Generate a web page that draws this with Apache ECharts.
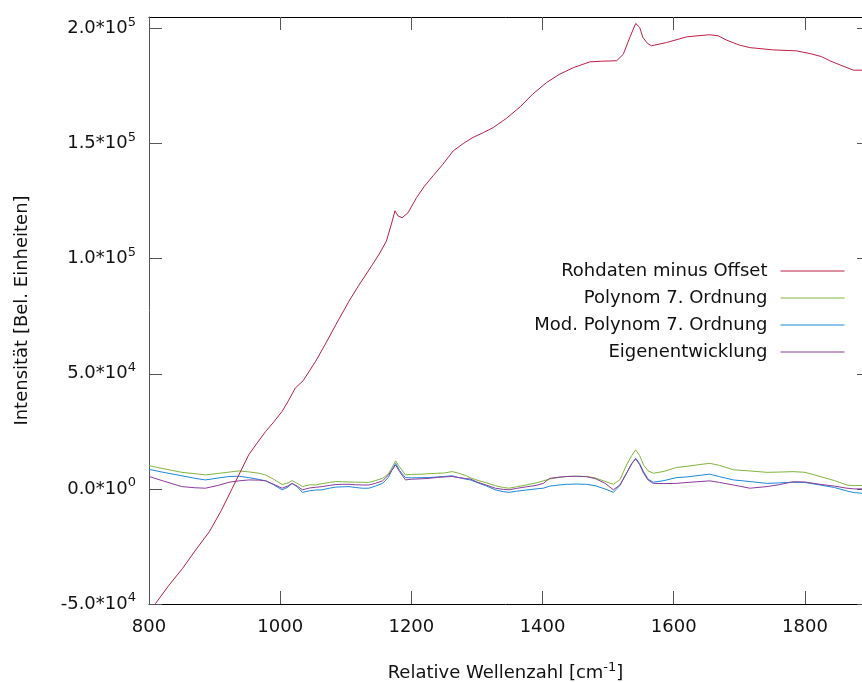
<!DOCTYPE html>
<html>
<head>
<meta charset="utf-8">
<script src="https://cdn.jsdelivr.net/npm/echarts@6/dist/echarts.min.js"></script>
<style>
  html, body { margin: 0; padding: 0; background: #fff; }
  #main { width: 862px; height: 682px; }
</style>
</head>
<body>
<div id="main"></div>
<script>
// Rohdaten: eigenes Raster
var rohX = [805, 810, 830, 851, 870, 892, 910, 927, 940, 952, 965, 978, 990, 1003, 1013, 1023, 1035, 1054, 1070, 1085,
    1105, 1120, 1141, 1152, 1162, 1170, 1175, 1180, 1186, 1195, 1208, 1220, 1233, 1248, 1264, 1280, 1294, 1310, 1325, 1345,
    1366, 1385, 1406, 1425, 1447, 1472, 1490, 1513, 1523, 1533, 1542, 1548, 1553, 1560, 1566, 1589, 1620, 1655, 1668, 1681,
    1700, 1716, 1752, 1787, 1808, 1825, 1838, 1855, 1874, 1887, 1895];
var rohY = [-51500, -49800, -42000, -34600, -27000, -18600, -9500, 300, 7800, 14800, 20000, 25000, 29000, 33700, 38500, 43800, 47000, 55400, 63500, 71400,
    81600, 88500, 97600, 102500, 107700, 115500, 120800, 118500, 117800, 120000, 126600, 131500, 136000, 141000, 146900, 150200, 152700, 154800, 157000, 161000,
    166000, 171500, 176500, 180000, 183000, 185500, 185800, 186000, 188800, 196100, 202200, 200500, 196100, 193500, 192500, 193900, 196400, 197300, 196800, 194900,
    192800, 191700, 190700, 190300, 189100, 187800, 186000, 184000, 181900, 181900, 181500];

// Untergrund-Kurven: gemeinsames Raster
var wellenzahl = [800, 820, 850, 870, 886, 905, 922, 937, 952, 968, 978, 990, 1003, 1012, 1018, 1026, 1034, 1045, 1054, 1064,
    1075, 1085, 1095, 1105, 1115, 1125, 1135, 1145, 1156, 1165, 1170, 1176, 1182, 1191, 1200, 1216, 1227, 1240, 1250, 1262,
    1270, 1283, 1290, 1300, 1315, 1328, 1340, 1349, 1360, 1375, 1390, 1401, 1411, 1425, 1437, 1452, 1467, 1480, 1495, 1508,
    1518, 1528, 1536, 1542, 1548, 1554, 1561, 1569, 1585, 1604, 1620, 1640, 1655, 1670, 1691, 1716, 1742, 1760, 1782, 1800,
    1823, 1845, 1864, 1875, 1887, 1895];
var polynom7 = [10100, 8900, 7200, 6600, 6100, 6700, 7300, 7800, 7400, 6800, 6000, 4200, 1900, 2600, 3600, 2400, 1000, 1800, 1700, 2300,
    2800, 3200, 3100, 3000, 2900, 2900, 2800, 3600, 4600, 6500, 9000, 12200, 9500, 6100, 6300, 6400, 6600, 6800, 6900, 7500,
    7000, 5800, 4800, 3800, 2600, 1400, 600, 300, 900, 1700, 2600, 3500, 4300, 5000, 5400, 5500, 5400, 4800, 3300, 2000,
    4000, 10400, 14500, 17000, 14500, 10400, 7800, 6800, 7600, 9300, 9800, 10600, 11100, 10200, 8300, 7800, 7200, 7300, 7500, 7200,
    5400, 3600, 1700, 1400, 1500, 1300];
var modPolynom7 = [8500, 7300, 5700, 4600, 3900, 4700, 5400, 5500, 4900, 4100, 3500, 1800, -400, 800, 2400, 900, -1500, -800, -500, -400,
    300, 800, 900, 1000, 600, 300, 300, 1200, 2400, 5000, 8000, 11100, 8000, 4900, 4800, 4900, 4900, 5200, 5400, 5700,
    5100, 4200, 3900, 2800, 1200, -400, -1200, -1500, -1000, -500, 0, 300, 1200, 1700, 2000, 2100, 2000, 1400, 0, -1500,
    1500, 6800, 11000, 13300, 11000, 7500, 4200, 2900, 3600, 4900, 5200, 5900, 6400, 5300, 3900, 3200, 2400, 2600, 2900, 2800,
    1700, 600, -900, -1600, -1900, -2000];
var eigenentwicklung = [5400, 3600, 1000, 500, 300, 1500, 2900, 3500, 3900, 3800, 3500, 2000, 300, 1300, 2400, 1200, -400, 400, 700, 1000,
    1500, 1900, 2000, 2000, 1800, 1700, 1700, 2400, 3500, 6000, 8000, 10400, 7500, 3900, 4200, 4400, 4600, 5000, 5200, 5400,
    5000, 4500, 4300, 3000, 1600, 300, -200, -400, 200, 900, 1500, 2400, 4600, 5100, 5400, 5500, 5300, 4500, 2500, -400,
    1800, 6800, 11000, 13000, 10500, 6800, 3800, 2400, 2300, 2400, 2800, 3200, 3500, 2800, 1700, 300, 1000, 1800, 3100, 3000,
    2000, 1200, 300, 0, 0, 0];

var serienNamen = ['Rohdaten minus Offset', 'Polynom 7. Ordnung', 'Mod. Polynom 7. Ordnung', 'Eigenentwicklung'];
var farben = ['#bd1e45', '#80b53e', '#1c88d9', '#8b3b9d'];

var xTicks = [800, 1000, 1200, 1400, 1600, 1800];
var yTicks = [-50000, 0, 50000, 100000, 150000, 200000];
// Beschriftung: [Mantisse, Exponent]
var yTickLabels = [['-5.0', '4'], ['0.0', '0'], ['5.0', '4'], ['1.0', '5'], ['1.5', '5'], ['2.0', '5']];

// sichtbarer Ausschnitt (Bild rechts abgeschnitten)
var xMin = 800, xMax = 1887, yMin = -50000, yMax = 205000;

function paare(xs, ys) {
    return xs.map(function (x, i) { return [x, ys[i]]; });
}

var myChart = echarts.init(document.getElementById('main'));
var font = 'DejaVu Sans';
var hochgestellt = { fontSize: 13, padding: [0, 0, 12, 0], fontFamily: font, color: '#111' };
var tickFarbe = '#555';

var reihen = [
    paare(rohX, rohY),
    paare(wellenzahl, polynom7),
    paare(wellenzahl, modPolynom7),
    paare(wellenzahl, eigenentwicklung)
];

var option = {
    backgroundColor: '#fff',
    animation: false,
    textStyle: { fontFamily: font },
    grid: { left: 149, top: 17, right: 0, bottom: 78, outerBoundsMode: 'none' },
    legend: {
        orient: 'vertical',
        right: 12,
        top: 257,
        align: 'right',
        itemWidth: 64,
        itemHeight: 14,
        itemGap: 9,
        itemStyle: { opacity: 0 },
        lineStyle: { width: 1 },
        textStyle: { fontSize: 18, color: '#111', fontFamily: font, padding: [0, 8, 0, 0] },
        data: serienNamen
    },
    xAxis: [{
        type: 'value',
        min: xMin,
        max: xMax,
        position: 'bottom',
        name: 'Relative Wellenzahl [cm{sup|-1}]',
        nameLocation: 'middle',
        nameGap: 57,
        nameTextStyle: {
            fontSize: 18, color: '#111', fontFamily: font,
            rich: { sup: hochgestellt }
        },
        axisLine: { onZero: false, lineStyle: { color: '#000', width: 1 } },
        axisTick: { show: true, inside: true, length: 13, customValues: xTicks, lineStyle: { color: tickFarbe } },
        axisLabel: {
            customValues: xTicks, fontSize: 18, color: '#111', margin: 14, fontFamily: font,
            formatter: function (v) { return String(v); }
        },
        splitLine: { show: false }
    }, {
        type: 'value',
        min: xMin,
        max: xMax,
        position: 'top',
        axisLine: { show: true, onZero: false, lineStyle: { color: '#000', width: 1 } },
        axisTick: { show: true, inside: true, length: 13, customValues: xTicks, lineStyle: { color: tickFarbe } },
        axisLabel: { show: false, customValues: xTicks },
        splitLine: { show: false }
    }],
    yAxis: [{
        type: 'value',
        min: yMin,
        max: yMax,
        position: 'left',
        name: 'Intensität [Bel. Einheiten]',
        nameLocation: 'middle',
        nameGap: 118,
        nameRotate: 90,
        nameTextStyle: { fontSize: 18, color: '#111', fontFamily: font },
        axisLine: { show: true, onZero: false, lineStyle: { color: tickFarbe, width: 1 } },
        axisTick: { show: true, inside: true, length: 13, customValues: yTicks, lineStyle: { color: tickFarbe } },
        axisLabel: {
            customValues: yTicks,
            margin: 13,
            fontSize: 18,
            color: '#111',
            fontFamily: font,
            formatter: function (v) {
                var l = yTickLabels[yTicks.indexOf(v)];
                return l[0] + '*10{sup|' + l[1] + '}';
            },
            rich: { sup: hochgestellt }
        },
        splitLine: { show: false }
    }, {
        type: 'value',
        min: yMin,
        max: yMax,
        position: 'right',
        axisLine: { show: false, onZero: false },
        axisTick: { show: true, inside: true, length: 5, customValues: yTicks, lineStyle: { color: tickFarbe } },
        axisLabel: { show: false, customValues: yTicks },
        splitLine: { show: false }
    }],
    series: reihen.map(function (d, i) {
        return {
            name: serienNamen[i],
            type: 'line',
            data: d,
            xAxisIndex: i === 0 ? 1 : 0,
            yAxisIndex: i === 0 ? 1 : 0,
            symbol: 'none',
            showSymbol: false,
            z: i === 0 ? 5 : 3,
            lineStyle: { color: farben[i], width: 1 },
            itemStyle: { color: farben[i] }
        };
    })
};

myChart.setOption(option);
</script>
</body>
</html>
